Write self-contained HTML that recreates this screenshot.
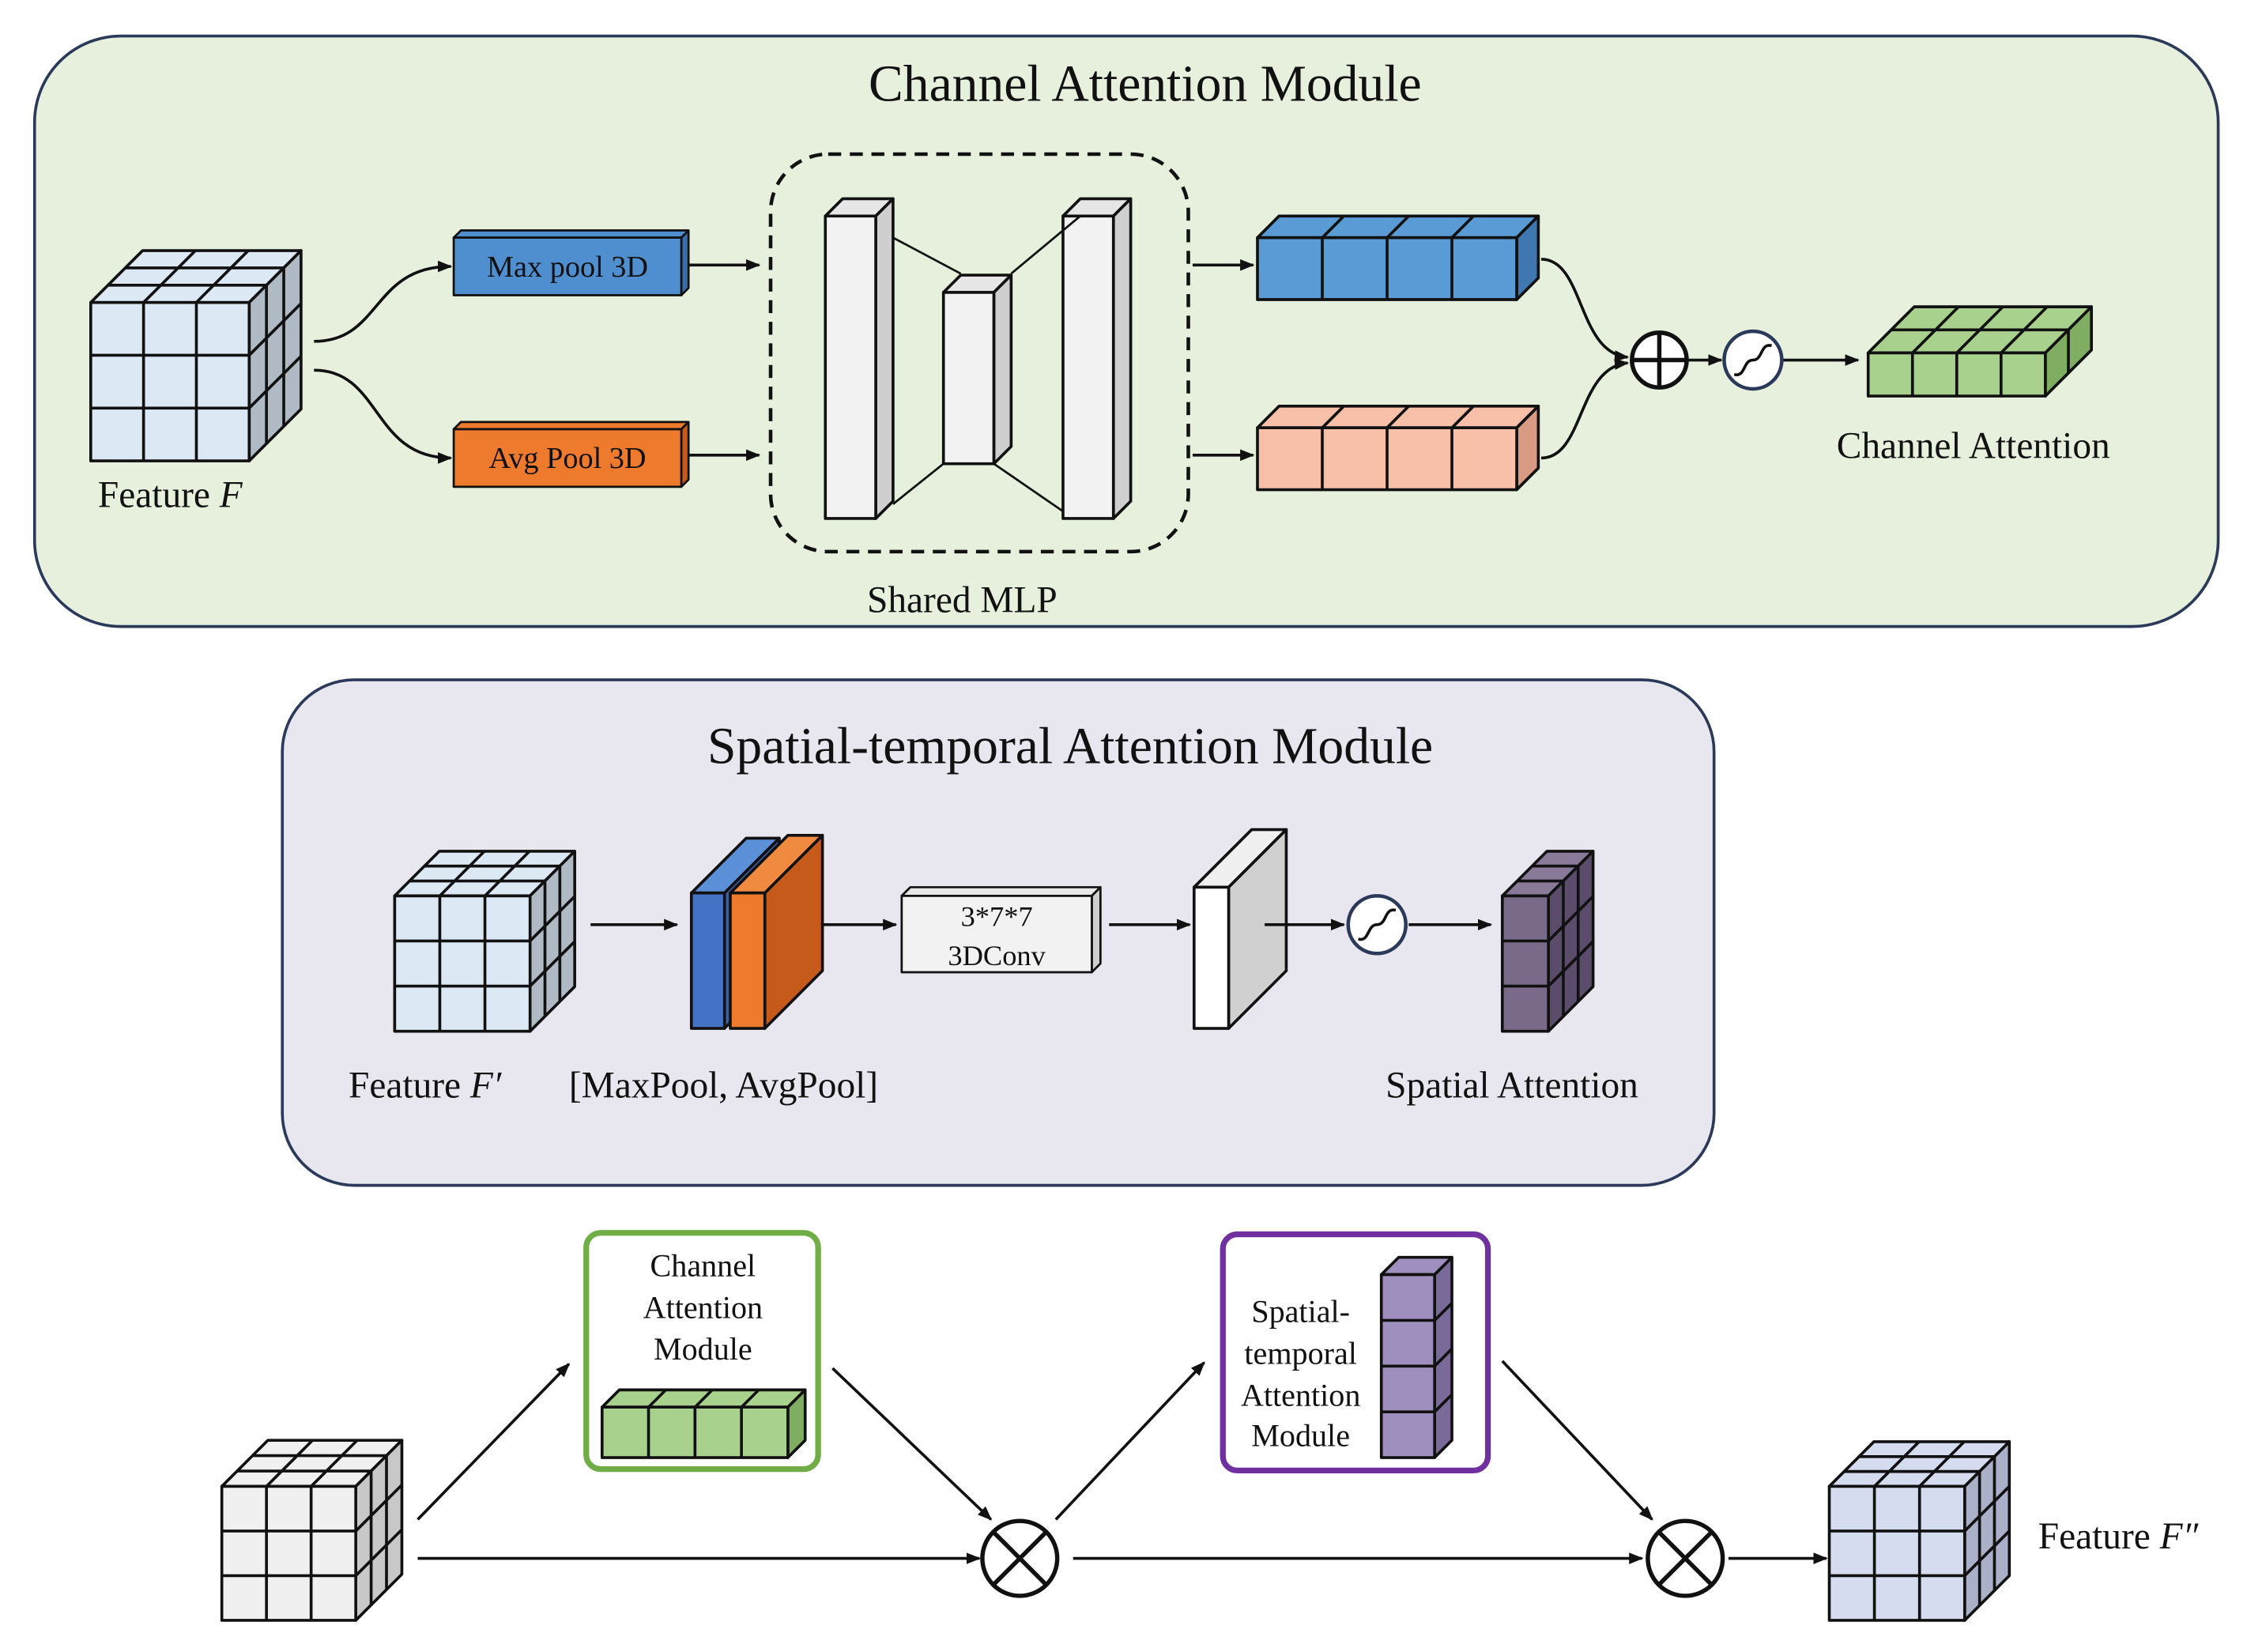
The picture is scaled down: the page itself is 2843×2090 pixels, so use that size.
<!DOCTYPE html>
<html><head><meta charset="utf-8"><style>
html,body{margin:0;padding:0;background:#fff}
svg{display:block}
text{font-family:"Liberation Serif",serif;fill:#111}
</style></head><body>
<svg id="s" width="2843" height="2090" viewBox="0 0 1560 1147" preserveAspectRatio="none" xmlns="http://www.w3.org/2000/svg">
<defs>
<marker id="a" markerWidth="10" markerHeight="10" refX="9" refY="5" orient="auto" markerUnits="userSpaceOnUse"><path d="M0,1 L10,5 L0,9 z" fill="#111"/></marker>
</defs>
<rect x="24" y="25" width="1516" height="410" rx="60" fill="#e6f0dc" stroke="#2b3a5a" stroke-width="2"/>
<text x="795" y="70" font-size="36" text-anchor="middle">Channel Attention Module</text>
<rect x="196" y="472" width="994" height="351" rx="50" fill="#e8e6ee" stroke="#2b3a5a" stroke-width="2"/>
<text x="743" y="530" font-size="36" text-anchor="middle">Spatial-temporal Attention Module</text>
<g id="g"></g>
<g fill="none" stroke="#111" stroke-width="2">
<path d="M218,237 C265,237 258,185 313,185" marker-end="url(#a)"/>
<path d="M218,257 C265,257 258,318 313,318" marker-end="url(#a)"/>
<path d="M478,184 L527,184" marker-end="url(#a)"/>
<path d="M478,316 L527,316" marker-end="url(#a)"/>
<rect x="535" y="107" width="290" height="276" rx="40" stroke-dasharray="9,6" stroke-width="2.5"/>
<path d="M828,184 L870,184" marker-end="url(#a)"/>
<path d="M828,316 L870,316" marker-end="url(#a)"/>
<path d="M1070,180 C1100,180 1095,245 1130,248" marker-end="url(#a)"/>
<path d="M1070,318 C1100,318 1095,255 1130,252" marker-end="url(#a)"/>
<path d="M1172,250 L1195,250" marker-end="url(#a)"/>
<path d="M1238,250 L1290,250" marker-end="url(#a)"/>
<path d="M410,642 L470,642" marker-end="url(#a)"/>
<path d="M570,642 L622,642" marker-end="url(#a)"/>
<path d="M770,642 L826,642" marker-end="url(#a)"/>
<path d="M878,642 L933,642" marker-end="url(#a)"/>
<path d="M978,642 L1035,642" marker-end="url(#a)"/>
<path d="M290,1055 L395,947" marker-end="url(#a)"/>
<path d="M578,950 L688,1055" marker-end="url(#a)"/>
<path d="M290,1082 L680,1082" marker-end="url(#a)"/>
<path d="M733,1055 L836,946" marker-end="url(#a)"/>
<path d="M1043,945 L1147,1055" marker-end="url(#a)"/>
<path d="M745,1082 L1140,1082" marker-end="url(#a)"/>
<path d="M1200,1082 L1268,1082" marker-end="url(#a)"/>
</g>
<g stroke="#111" stroke-width="3" fill="#fff">
<circle cx="1152" cy="250" r="19"/><path d="M1133,250 H1171 M1152,231 V269"/>
<circle cx="708" cy="1082" r="26"/><path d="M690,1064 L726,1100 M726,1064 L690,1100"/>
<circle cx="1170" cy="1082" r="26"/><path d="M1152,1064 L1188,1100 M1188,1064 L1152,1100"/>
</g>
<g stroke="#2b3a5a" stroke-width="2.5" fill="#fff">
<circle cx="1217" cy="250" r="20"/><path d="M1204,260 C1212,262 1210,250 1217,250 C1224,250 1222,238 1230,240" fill="none" stroke="#111" stroke-width="2"/>
<circle cx="956" cy="642" r="20"/><path d="M943,652 C951,654 949,642 956,642 C963,642 961,630 969,632" fill="none" stroke="#111" stroke-width="2"/>
</g>
<rect x="407" y="856" width="161" height="164" rx="10" fill="#fff" stroke="#70ad47" stroke-width="4"/>
<rect x="849" y="857" width="184" height="164" rx="10" fill="#fff" stroke="#7030a0" stroke-width="4"/>
<g id="g2"></g>
<text x="68" y="352" font-size="26">Feature <tspan font-style="italic">F</tspan></text>
<text x="394" y="192" font-size="21" text-anchor="middle">Max pool 3D</text>
<text x="394" y="325" font-size="21" text-anchor="middle">Avg Pool 3D</text>
<text x="668" y="425" font-size="26" text-anchor="middle">Shared MLP</text>
<text x="1370" y="318" font-size="26" text-anchor="middle">Channel Attention</text>
<text x="692" y="643" font-size="20" text-anchor="middle">3*7*7</text>
<text x="692" y="670" font-size="20" text-anchor="middle">3DConv</text>
<text x="242" y="762" font-size="26">Feature <tspan font-style="italic">F′</tspan></text>
<text x="395" y="762" font-size="26">[MaxPool, AvgPool]</text>
<text x="962" y="762" font-size="26">Spatial Attention</text>
<g font-size="22" text-anchor="middle">
<text x="488" y="886">Channel</text><text x="488" y="915">Attention</text><text x="488" y="944">Module</text>
<text x="903" y="918">Spatial-</text><text x="903" y="947">temporal</text><text x="903" y="976">Attention</text><text x="903" y="1004">Module</text>
</g>
<text x="1415" y="1075" font-size="26">Feature <tspan font-style="italic">F″</tspan></text>
</svg>
<script>
var NS="http://www.w3.org/2000/svg";
function el(p,t,a){var e=document.createElementNS(NS,t);for(var k in a)e.setAttribute(k,a[k]);p.appendChild(e);return e;}
function cube(p,x,y,w,h,d,nx,ny,nz,f,sf,tf,sw){
 sw=sw||2;var st={stroke:"#111","stroke-width":sw};
 function poly(pts,fill){var a={points:pts.map(function(q){return q.join(",")}).join(" "),fill:fill,stroke:"#111","stroke-width":sw,"stroke-linejoin":"round"};el(p,"polygon",a);}
 function line(x1,y1,x2,y2){el(p,"line",Object.assign({x1:x1,y1:y1,x2:x2,y2:y2},st));}
 poly([[x,y],[x+d,y-d],[x+w+d,y-d],[x+w,y]],tf);
 poly([[x+w,y],[x+w+d,y-d],[x+w+d,y+h-d],[x+w,y+h]],sf);
 poly([[x,y],[x+w,y],[x+w,y+h],[x,y+h]],f);
 for(var i=1;i<nx;i++){var xx=x+w*i/nx;line(xx,y,xx,y+h);line(xx,y,xx+d,y-d);}
 for(var j=1;j<ny;j++){var yy=y+h*j/ny;line(x,yy,x+w,yy);line(x+w,yy,x+w+d,yy-d);}
 for(var k=1;k<nz;k++){var o=d*k/nz;line(x+o,y-o,x+w+o,y-o);line(x+w+o,y-o,x+w+o,y+h-o);}
}
var g=document.getElementById("g"),g2=document.getElementById("g2");
cube(g,63,210,110,110,36,3,3,3,"#dde8f5","#b0bac4","#dde8f5");
cube(g,315,165,158,40,5,1,1,1,"#4f8fd0","#3a6ea8","#4f8fd0",1.5);
cube(g,315,298,158,40,5,1,1,1,"#ee7a2e","#c55a1a","#ee7a2e",1.5);
cube(g,573,150,35,210,12,1,1,1,"#f2f2f2","#cfcfcf","#e6e6e6");
cube(g,655,203,35,119,12,1,1,1,"#f2f2f2","#cfcfcf","#e6e6e6");
cube(g,738,150,35,210,12,1,1,1,"#f2f2f2","#cfcfcf","#e6e6e6");
var ls=[[620,165,667,190],[620,350,655,322],[702,190,750,150],[690,322,738,355]];
ls.forEach(function(l){el(g,"line",{x1:l[0],y1:l[1],x2:l[2],y2:l[3],stroke:"#111","stroke-width":1.5});});
cube(g,873,165,180,43,15,4,1,1,"#5b9bd5","#3f78b0","#5b9bd5");
cube(g,873,297,180,43,15,4,1,1,"#f8c0a8","#d89a82","#f8c0a8");
cube(g,1297,245,123,30,32,4,1,2,"#a9d18e","#7fae62","#a9d18e");
cube(g,274,622,94,94,31,3,3,3,"#dde8f5","#b0bac4","#dde8f5");
cube(g,480,620,23,94,38,1,1,1,"#4472c4","#3a60a8","#5b8fd8");
cube(g,507,620,24,94,40,1,1,1,"#ee7a2e","#c55a1a","#f08a40");
cube(g,626,622,132,53,6,1,1,1,"#f2f2f2","#cfcfcf","#e6e6e6",1.5);
cube(g,829,616,24,98,40,1,1,1,"#ffffff","#d0d0d0","#f0f0f0");
cube(g,1043,622,32,94,31,1,3,3,"#7a6a8a","#5a4c6a","#8a7a9a");
cube(g,154,1032,93,93,32,3,3,3,"#f0f0f0","#c8c8c8","#f0f0f0");
cube(g,1270,1032,94,93,31,3,3,3,"#d6dcf0","#aab0c8","#d6dcf0");
cube(g2,418,977,129,35,12,4,1,1,"#a9d18e","#7fae62","#a9d18e");
cube(g2,959,885,37,127,12,1,4,1,"#9f8fbf","#7a6a9a","#9f8fbf");
</script>
</body></html>
